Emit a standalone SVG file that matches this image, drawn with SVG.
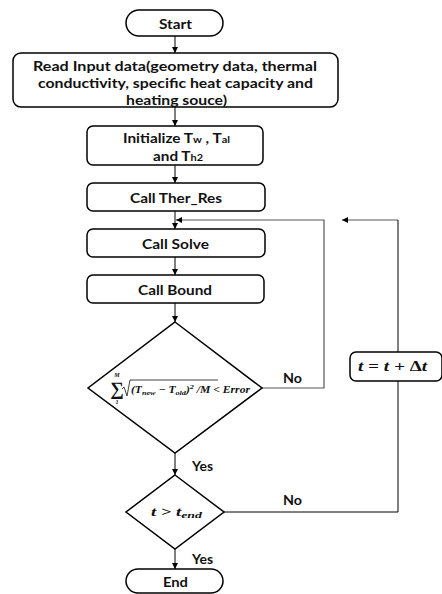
<svg xmlns="http://www.w3.org/2000/svg" width="442" height="594" viewBox="0 0 442 594">
<style>
.box{fill:#fff;stroke:#000;stroke-width:1.5}
.t{font-family:Lato,"Liberation Sans",sans-serif;font-weight:bold;font-size:14px;fill:#111;text-anchor:middle;dominant-baseline:central}
.sub{font-size:10px}
.m{font-family:"Liberation Serif","DejaVu Serif",serif;font-weight:bold;font-style:italic;fill:#111}
.c{fill:none;stroke:#000;stroke-width:1}
.g{fill:none;stroke:#555;stroke-width:1.2}
</style>
<defs>
<marker id="a" viewBox="0 0 10 10" refX="10" refY="5" markerWidth="6" markerHeight="6" orient="auto" markerUnits="userSpaceOnUse">
<path d="M0,0 L10,5 L0,10 z" fill="#000"/>
</marker>
</defs>
<rect width="442" height="594" fill="#fff"/>
<g id="connectors">
<line class="c" x1="175" y1="36" x2="175" y2="53" marker-end="url(#a)"/>
<line class="c" x1="175" y1="107" x2="175" y2="126" marker-end="url(#a)"/>
<line class="c" x1="175" y1="165" x2="175" y2="183" marker-end="url(#a)"/>
<line class="c" x1="175" y1="211" x2="175" y2="229" marker-end="url(#a)"/>
<line class="c" x1="175" y1="257" x2="175" y2="275" marker-end="url(#a)"/>
<line class="c" x1="175" y1="303" x2="175" y2="322" marker-end="url(#a)"/>
<line class="c" x1="175" y1="453" x2="175" y2="475" marker-end="url(#a)"/>
<line class="c" x1="175" y1="549" x2="175" y2="569" marker-end="url(#a)"/>
<polyline class="g" points="262,388 324,388 324,220 176,220" marker-end="url(#a)"/>
<line class="g" x1="398" y1="220" x2="342" y2="220" marker-end="url(#a)"/>
<line class="c" x1="398" y1="220" x2="398" y2="352"/>
<polyline class="c" points="224,512 398,512 398,381"/>
</g>
<g id="start"><rect class="box" x="126" y="10" width="97" height="26" rx="13"/><text class="t" x="175.5" y="23" textLength="33" lengthAdjust="spacingAndGlyphs">Start</text></g>
<g id="read"><rect class="box" x="13" y="53" width="325" height="54" rx="8"/>
<text class="t" x="175" y="65" textLength="284" lengthAdjust="spacingAndGlyphs">Read Input data(geometry data, thermal</text>
<text class="t" x="175.5" y="82" textLength="275" lengthAdjust="spacingAndGlyphs">conductivity, specific heat capacity and</text>
<text class="t" x="176.5" y="99" textLength="101" lengthAdjust="spacingAndGlyphs">heating souce)</text></g>
<g id="init"><rect class="box" x="87" y="126" width="176" height="39" rx="6"/>
<text class="t" x="176.5" y="137" textLength="107" lengthAdjust="spacingAndGlyphs">Initialize T<tspan class="sub" dy="2">w</tspan><tspan dy="-2"> , T</tspan><tspan class="sub" dy="2">al</tspan></text>
<text class="t" x="178" y="155" textLength="50" lengthAdjust="spacingAndGlyphs">and T<tspan class="sub" dy="2">h2</tspan></text></g>
<g id="therres"><rect class="box" x="87" y="183" width="178" height="28" rx="6"/><text class="t" x="176" y="197" textLength="92" lengthAdjust="spacingAndGlyphs">Call Ther_Res</text></g>
<g id="solve"><rect class="box" x="87" y="229" width="178" height="28" rx="6"/><text class="t" x="175.5" y="243" textLength="67" lengthAdjust="spacingAndGlyphs">Call Solve</text></g>
<g id="bound"><rect class="box" x="87" y="275" width="177" height="28" rx="6"/><text class="t" x="175" y="289" textLength="74" lengthAdjust="spacingAndGlyphs">Call Bound</text></g>
<g id="check"><polygon class="box" points="175,322 262,388 175,453 88,388"/>
<text class="m" x="117" y="395" font-size="19" font-style="normal" font-weight="normal" text-anchor="middle">∑</text>
<text class="m" x="117" y="377" font-size="6" text-anchor="middle">M</text>
<text class="m" x="117" y="404" font-size="6" text-anchor="middle">1</text>
<path d="M122,389 L124,387 L127,396 L130,380 L218,380" fill="none" stroke="#111" stroke-width="0.8"/>
<text class="m" x="131" y="393" font-size="10" textLength="119" lengthAdjust="spacingAndGlyphs">(T<tspan font-size="7" dy="2">new</tspan><tspan dy="-2"> − T</tspan><tspan font-size="7" dy="2">old</tspan><tspan dy="-2">)</tspan><tspan font-size="7" dy="-4">2</tspan><tspan dy="4"> /M &lt; Error</tspan></text>
</g>
<g id="tupdate"><rect class="box" x="350" y="352" width="92" height="29" rx="6"/>
<text class="m" x="392.5" y="371" font-size="14" text-anchor="middle" textLength="69" lengthAdjust="spacingAndGlyphs">t = t + <tspan font-style="normal">Δ</tspan>t</text></g>
<g id="tend"><polygon class="box" points="175,475 224,512 175,549 126,512"/>
<text class="m" x="176.5" y="516" font-size="12" text-anchor="middle" textLength="51" lengthAdjust="spacingAndGlyphs">t &gt; t<tspan font-size="9" dy="2">end</tspan></text></g>
<g id="end"><rect class="box" x="126" y="569" width="97" height="24" rx="12"/><text class="t" x="175.5" y="581" textLength="25" lengthAdjust="spacingAndGlyphs">End</text></g>
<g id="labels">
<text class="t" x="292.5" y="377" textLength="19" lengthAdjust="spacingAndGlyphs">No</text>
<text class="t" x="202.5" y="465" textLength="21" lengthAdjust="spacingAndGlyphs">Yes</text>
<text class="t" x="292.5" y="499" textLength="19" lengthAdjust="spacingAndGlyphs">No</text>
<text class="t" x="202.5" y="558" textLength="21" lengthAdjust="spacingAndGlyphs">Yes</text>
</g>
</svg>
